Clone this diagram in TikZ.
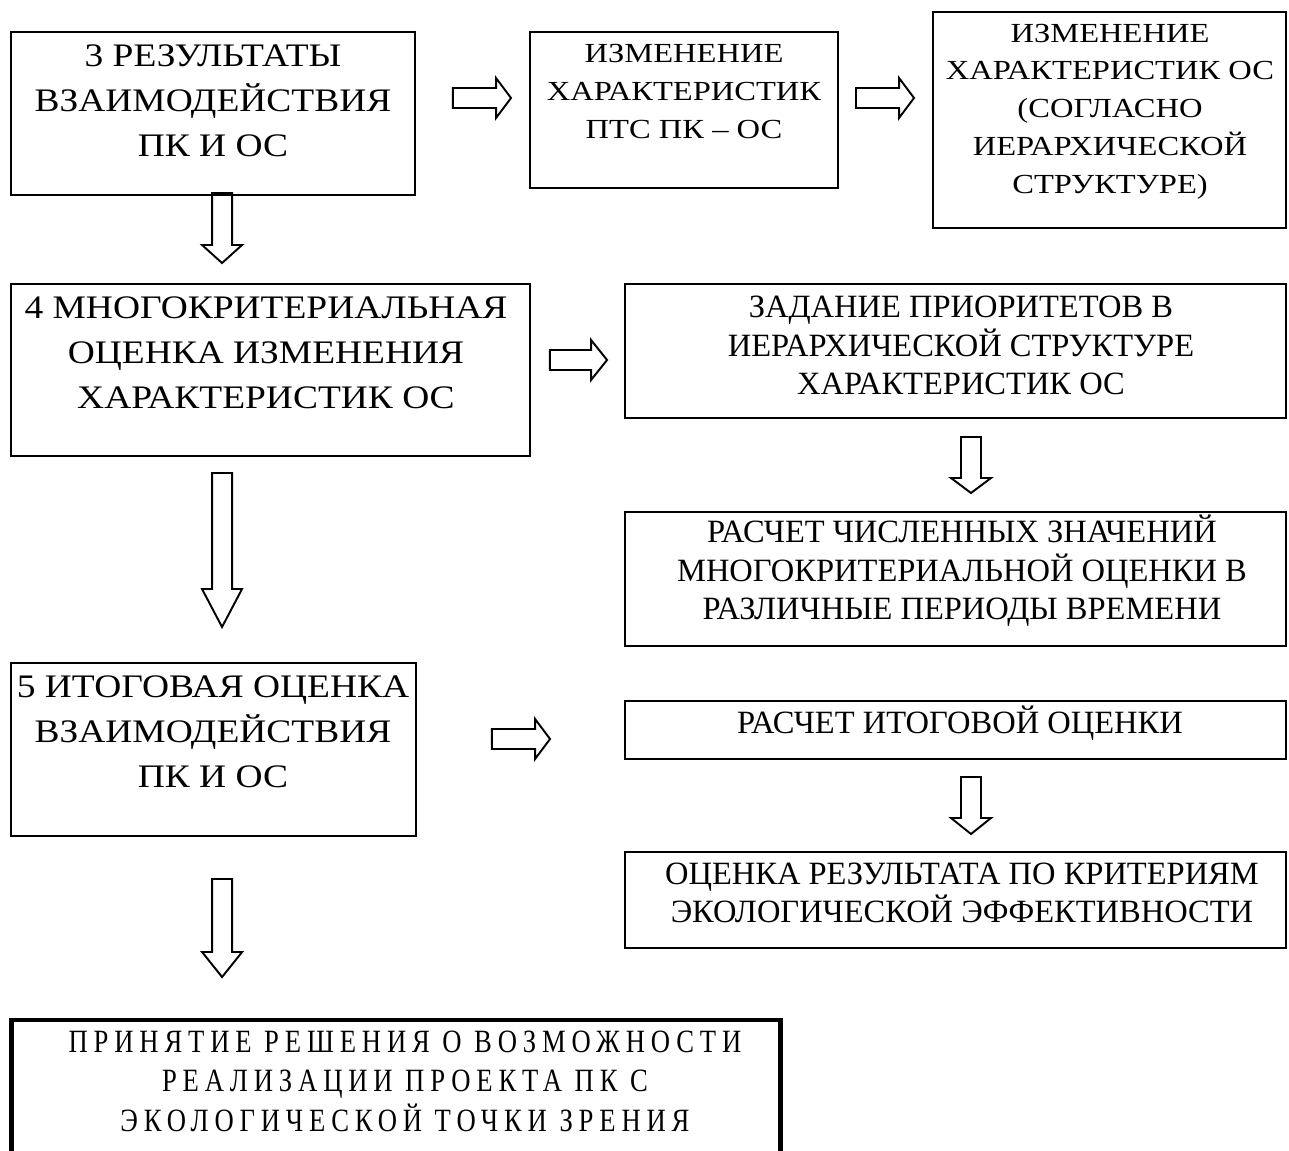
\documentclass[tikz,border=0pt]{standalone}
\usepackage{fontspec}
\setmainfont{Liberation Serif}
\newfontfamily\widefont[FakeStretch=1.14]{Liberation Serif}
\newfontfamily\topfont[FakeStretch=1.18]{Liberation Serif}
\newfontfamily\spacedfont[LetterSpace=18,FakeStretch=0.82]{Liberation Serif}
\usepackage{tikz}
\usetikzlibrary{calc}

\newcommand{\shaftw}{10}
\newcommand{\headw}{20}
\tikzset{headlen/.store in=\hlen, headlen=15}

\begin{document}
\begin{tikzpicture}[x=0.02cm,y=-0.02cm]
\tikzstyle{mybox}=[rectangle,draw,line width=1.1pt,inner sep=0pt,outer sep=0pt];
\tikzstyle{bigtext}=[align=center,inner sep=0pt,font=\widefont\fontsize{18.7pt}{25.5pt}\selectfont];
\tikzstyle{midtext}=[align=center,inner sep=0pt,font=\topfont\fontsize{15.7pt}{21.5pt}\selectfont];
\tikzstyle{sidetext}=[align=center,inner sep=0pt,font=\fontsize{18.5pt}{22pt}\selectfont];
\tikzstyle{downblock}=[draw,line width=1.1pt,line join=miter,to path={
  ($(\tikztostart)+(-\shaftw,0)$) -- ($(\tikztotarget)+(-\shaftw,-\hlen)$)
  -- ($(\tikztotarget)+(-\headw,-\hlen)$) -- (\tikztotarget)
  -- ($(\tikztotarget)+(\headw,-\hlen)$) -- ($(\tikztotarget)+(\shaftw,-\hlen)$)
  -- ($(\tikztostart)+(\shaftw,0)$) -- cycle}];
\tikzstyle{rightblock}=[draw,line width=1.1pt,line join=miter,to path={
  ($(\tikztostart)+(0,-\shaftw)$) -- ($(\tikztotarget)+(-\hlen,-\shaftw)$)
  -- ($(\tikztotarget)+(-\hlen,-\headw)$) -- (\tikztotarget)
  -- ($(\tikztotarget)+(-\hlen,\headw)$) -- ($(\tikztotarget)+(-\hlen,\shaftw)$)
  -- ($(\tikztostart)+(0,\shaftw)$) -- cycle}];
\useasboundingbox (0,0) rectangle (1289,1151);

% boxes
\node[mybox,minimum width=8.08cm,minimum height=3.26cm] (b3) at (213,113.5) {};
\node[mybox,minimum width=6.16cm,minimum height=3.12cm] (b3a) at (684,110) {};
\node[mybox,minimum width=7.06cm,minimum height=4.32cm] (b3b) at (1109.5,120) {};
\node[mybox,minimum width=10.38cm,minimum height=3.44cm] (b4) at (270.5,370) {};
\node[mybox,minimum width=13.22cm,minimum height=2.68cm] (b4a) at (955.5,351) {};
\node[mybox,minimum width=13.22cm,minimum height=2.68cm] (b4b) at (955.5,579) {};
\node[mybox,minimum width=8.10cm,minimum height=3.46cm] (b5) at (213.5,749.5) {};
\node[mybox,minimum width=13.22cm,minimum height=1.16cm] (b5a) at (955.5,730) {};
\node[mybox,minimum width=13.22cm,minimum height=1.92cm] (b5b) at (955.5,900) {};
\node[mybox,line width=2.8pt,minimum width=15.4cm,minimum height=3cm] (b6) at (396,1095) {};

% texts
\node[bigtext] (t3) at (213,101) {3 РЕЗУЛЬТАТЫ\\ВЗАИМОДЕЙСТВИЯ\\ПК И ОС};
\node[midtext] (t3a) at (684,91.5) {ИЗМЕНЕНИЕ\\ХАРАКТЕРИСТИК\\ПТС ПК – ОС};
\node[midtext] (t3b) at (1110,111.5) {ИЗМЕНЕНИЕ\\ХАРАКТЕРИСТИК ОС\\(СОГЛАСНО\\ИЕРАРХИЧЕСКОЙ\\СТРУКТУРЕ)};
\node[bigtext] (t4) at (266,352.5) {4 МНОГОКРИТЕРИАЛЬНАЯ\\ОЦЕНКА ИЗМЕНЕНИЯ\\ХАРАКТЕРИСТИК ОС};
\node[sidetext] (t4a) at (961,345.5) {ЗАДАНИЕ ПРИОРИТЕТОВ В\\ИЕРАРХИЧЕСКОЙ СТРУКТУРЕ\\ХАРАКТЕРИСТИК ОС};
\node[sidetext] (t4b) at (962,571) {РАСЧЕТ ЧИСЛЕННЫХ ЗНАЧЕНИЙ\\МНОГОКРИТЕРИАЛЬНОЙ ОЦЕНКИ В\\РАЗЛИЧНЫЕ ПЕРИОДЫ ВРЕМЕНИ};
\node[bigtext] (t5) at (213,732) {5 ИТОГОВАЯ ОЦЕНКА\\ВЗАИМОДЕЙСТВИЯ\\ПК И ОС};
\node[sidetext] (t5a) at (960,723) {РАСЧЕТ ИТОГОВОЙ ОЦЕНКИ};
\node[sidetext] (t5b) at (962,893) {ОЦЕНКА РЕЗУЛЬТАТА ПО КРИТЕРИЯМ\\ЭКОЛОГИЧЕСКОЙ ЭФФЕКТИВНОСТИ};
\node[align=center,inner sep=0pt,font=\spacedfont\fontsize{18.5pt}{22.5pt}\selectfont] (t6) at (405,1081) {ПРИНЯТИЕ РЕШЕНИЯ О ВОЗМОЖНОСТИ\\РЕАЛИЗАЦИИ ПРОЕКТА ПК С\\ЭКОЛОГИЧЕСКОЙ ТОЧКИ ЗРЕНИЯ};

% arrows
\coordinate (r1a) at ($(b3.north east)+(38,66)$);
\coordinate (r1b) at ($(b3a.north west)+(-19,66)$);
\coordinate (r2a) at ($(b3a.north east)+(18,66)$);
\coordinate (r2b) at ($(b3b.west)+(-19,-22)$);
\coordinate (d1a) at ($(b3.south west)+(211,-2)$);
\coordinate (d1b) at ($(b4.north west)+(211,-21)$);
\coordinate (r3a) at ($(b4.east)+(20,-10)$);
\coordinate (r3b) at ($(b4a.west)+(-18,9)$);
\coordinate (d2a) at ($(b4a.south)+(15.5,19)$);
\coordinate (d2b) at ($(b4b.north)+(15.5,-19)$);
\coordinate (d3a) at ($(b4.south west)+(211,17)$);
\coordinate (d3b) at ($(b5.north west)+(211,-36)$);
\coordinate (r4a) at ($(b5.east)+(76,-10.5)$);
\coordinate (r4b) at ($(b5a.west)+(-75,9)$);
\coordinate (d4a) at ($(b5a.south)+(15.5,18)$);
\coordinate (d4b) at ($(b5b.north)+(15.5,-18)$);
\coordinate (d5a) at ($(b5.south west)+(211,43)$);
\coordinate (d5b) at ($(b6.north west)+(211,-43)$);
\draw[rightblock] (r1a) to (r1b);
\draw[rightblock] (r2a) to (r2b);
\draw[downblock,headlen=18] (d1a) to (d1b);
\draw[rightblock,headlen=16] (r3a) to (r3b);
\draw[downblock] (d2a) to (d2b);
\draw[downblock,headlen=38] (d3a) to (d3b);
\draw[rightblock] (r4a) to (r4b);
\draw[downblock,headlen=16] (d4a) to (d4b);
\draw[downblock,headlen=25] (d5a) to (d5b);
\end{tikzpicture}
\end{document}
